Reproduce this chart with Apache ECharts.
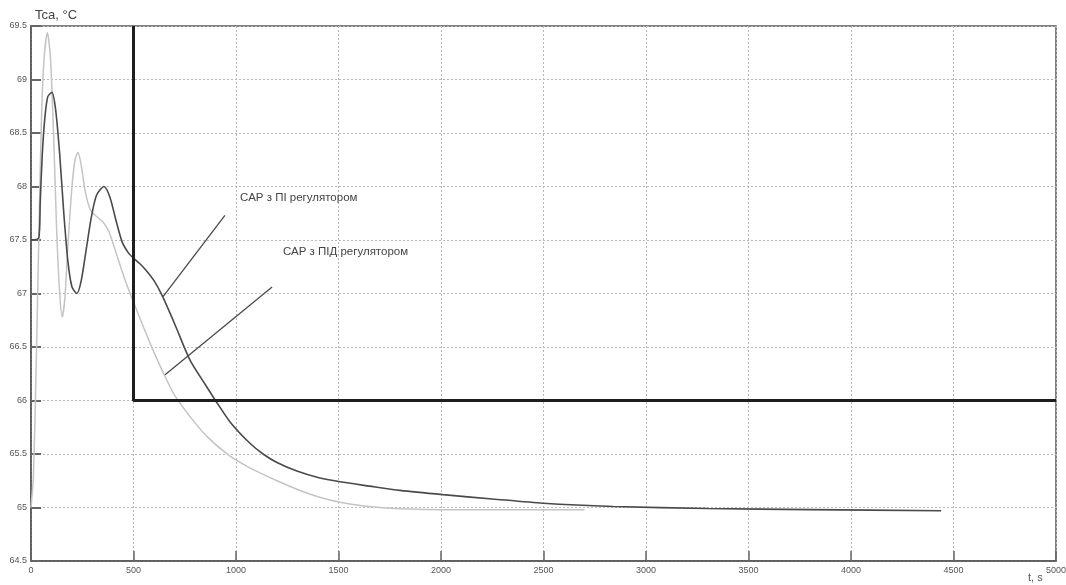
<!DOCTYPE html>
<html>
<head>
<meta charset="utf-8">
<script src="https://cdn.jsdelivr.net/npm/echarts@6/dist/echarts.min.js"></script>
<style>html,body{margin:0;padding:0;background:#fff}#c{width:1066px;height:585px}</style>
</head>
<body>
<div id="c"></div>
<script>
// Time ticks and temperature ticks
const xTicks = [0, 500, 1000, 1500, 2000, 2500, 3000, 3500, 4000, 4500, 5000];
const yTicks = [64.5, 65, 65.5, 66, 66.5, 67, 67.5, 68, 68.5, 69, 69.5];

// Setpoint / reference step (black)
const stepT = [500, 500, 5000];
const stepV = [69.5, 66, 66];

// САР з ПІ регулятором (dark curve)
const piT = [0, 38, 45, 55, 68, 82, 102, 120, 140, 160, 180, 200, 224, 245, 270, 295, 320, 356, 385, 415, 445, 475, 500, 530, 560, 600, 640, 700, 775, 850, 900, 971, 1068, 1132, 1200, 1297, 1400, 1507, 1650, 1800, 2010, 2250, 2498, 2840, 3300, 3800, 4440];
const piV = [67.5, 67.52, 67.85, 68.3, 68.65, 68.84, 68.88, 68.72, 68.3, 67.75, 67.3, 67.06, 67.0, 67.12, 67.42, 67.72, 67.92, 68.0, 67.9, 67.68, 67.48, 67.38, 67.33, 67.28, 67.22, 67.12, 66.98, 66.72, 66.38, 66.15, 66.0, 65.8, 65.6, 65.5, 65.42, 65.34, 65.28, 65.24, 65.2, 65.16, 65.12, 65.08, 65.04, 65.01, 64.99, 64.98, 64.97];

// САР з ПІД регулятором (light curve)
const pidT = [0, 12, 25, 40, 52, 64, 80, 95, 110, 125, 140, 152, 165, 180, 200, 215, 229, 245, 265, 290, 320, 350, 380, 420, 460, 500, 550, 600, 650, 700, 780, 860, 971, 1068, 1132, 1200, 1297, 1400, 1507, 1700, 2000, 2400, 2700];
const pidV = [65.0, 65.3, 66.3, 67.7, 68.7, 69.2, 69.44, 69.2, 68.5, 67.6, 67.0, 66.78, 66.95, 67.45, 68.0, 68.25, 68.32, 68.2, 67.95, 67.78, 67.72, 67.67, 67.58, 67.35, 67.12, 66.92, 66.68, 66.45, 66.24, 66.05, 65.84, 65.66, 65.48, 65.37, 65.31, 65.25, 65.17, 65.1, 65.05, 65.0, 64.98, 64.98, 64.98];

// Annotation pointer lines and labels
const annPiT = [946, 644];
const annPiV = [67.73, 66.97];
const annPidT = [1176, 654];
const annPidV = [67.06, 66.24];
const labelPi = { text: 'САР з ПІ регулятором', t: 1020, v: 67.89 };
const labelPid = { text: 'САР з ПІД регулятором', t: 1229, v: 67.39 };
const yTitle = 'Tca, °C';
const xTitle = 't, s';

const zip = (a, b) => a.map((x, i) => [x, b[i]]);
const fam = '"Liberation Sans Narrow", "Liberation Sans", Arial, sans-serif';

const chart = echarts.init(document.getElementById('c'), null, { renderer: 'canvas' });
chart.setOption({
  animation: false,
  backgroundColor: '#ffffff',
  grid: { left: 31, right: 10, top: 26, bottom: 24, outerBoundsMode: 'none', containLabel: false,
          show: true, borderColor: '#555', borderWidth: 1.5, backgroundColor: 'transparent' },
  xAxis: {
    type: 'value', min: xTicks[0], max: xTicks[xTicks.length - 1], interval: 500,
    axisLine: { show: true, lineStyle: { color: '#555', width: 1.5 } },
    axisTick: { show: true, inside: true, length: 10, lineStyle: { color: '#666', width: 1.5 } },
    axisLabel: { color: '#555', fontSize: 9, fontFamily: fam, margin: 5, formatter: v => String(v) },
    splitLine: { show: true, lineStyle: { color: '#b8b8b8', type: [2, 2], width: 1 } }
  },
  yAxis: {
    type: 'value', min: yTicks[0], max: yTicks[yTicks.length - 1], interval: 0.5,
    axisLine: { show: true, lineStyle: { color: '#555', width: 1.5 } },
    axisTick: { show: true, inside: true, length: 10, lineStyle: { color: '#666', width: 2 } },
    axisLabel: { color: '#555', fontSize: 9, fontFamily: fam, margin: 4, formatter: v => String(v) },
    splitLine: { show: true, lineStyle: { color: '#b8b8b8', type: [2, 2], width: 1 } }
  },
  series: [
    { type: 'line', data: zip(stepT, stepV), showSymbol: false, lineStyle: { color: '#1e1e1e', width: 3 }, z: 5 },
    { type: 'line', data: zip(pidT, pidV), showSymbol: false, smooth: 0.25, lineStyle: { color: '#c4c4c4', width: 1.5 }, z: 3 },
    { type: 'line', data: zip(piT, piV), showSymbol: false, smooth: 0.25, lineStyle: { color: '#4a4a4a', width: 1.6 }, z: 4,
      markPoint: {
        symbol: 'circle', symbolSize: 0,
        label: { show: true, position: 'right', distance: 0, color: '#444', fontSize: 11.5, fontFamily: fam, formatter: p => p.name },
        data: [
          { name: labelPi.text, coord: [labelPi.t, labelPi.v] },
          { name: labelPid.text, coord: [labelPid.t, labelPid.v] }
        ]
      }
    },
    { type: 'line', data: zip(annPiT, annPiV), showSymbol: false, lineStyle: { color: '#4a4a4a', width: 1.3 }, z: 4 },
    { type: 'line', data: zip(annPidT, annPidV), showSymbol: false, lineStyle: { color: '#4a4a4a', width: 1.3 }, z: 4 }
  ],
  graphic: [
    { type: 'text', left: 33, top: 9, z: 100,
      style: { text: yTitle, fill: '#444', font: '13px ' + fam, backgroundColor: '#fff', padding: [0, 4, 2, 2] } },
    { type: 'text', left: 1028, top: 572, z: 100,
      style: { text: xTitle, fill: '#555', font: '11px ' + fam } }
  ]
});
</script>
</body>
</html>
